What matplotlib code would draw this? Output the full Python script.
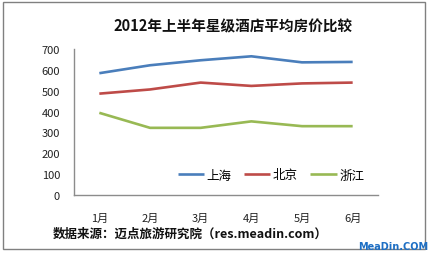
import matplotlib
matplotlib.use("Agg")
import matplotlib.pyplot as plt
from matplotlib.patches import Rectangle

plt.rcParams['font.family'] = ['Noto Sans CJK SC', 'DejaVu Sans']

months = ["1月", "2月", "3月", "4月", "5月", "6月"]
shanghai = [584, 622, 646, 665, 636, 638]
beijing = [486, 506, 539, 523, 535, 539]
zhejiang = [394, 322, 322, 353, 330, 330]
series_names = ["上海", "北京", "浙江"]
colors = ["#4A7EBB", "#BE4B48", "#98B954"]
yticks = [0, 100, 200, 300, 400, 500, 600, 700]

W, H = 431, 255
fig = plt.figure(figsize=(W / 100, H / 100), dpi=100)
fig.patch.set_facecolor("white")

# outer frame
fig.patches.append(Rectangle((3 / W, 1 - 250 / H), 422 / W, 247 / H,
                             transform=fig.transFigure, fill=False,
                             edgecolor="#808080", linewidth=1.0))

ax = fig.add_axes([74 / W, 1 - 196 / H, 304 / W, 146 / H])
x = list(range(len(months)))
for vals, name, c in zip([shanghai, beijing, zhejiang], series_names, colors):
    ax.plot(x, vals, color=c, linewidth=1.9, label=name, solid_capstyle="butt")

ax.set_xlim(-0.5, len(months) - 0.5)
ax.set_ylim(0, 700)
ax.set_yticks(yticks)
ax.set_yticklabels([str(v) for v in yticks], fontsize=8, color="#222222")
ax.set_xticks(x)
ax.set_xticklabels(months, fontsize=8, color="#222222")
ax.tick_params(axis="both", length=0)
ax.tick_params(axis="y", pad=10)
ax.tick_params(axis="x", pad=13)
for s in ["top", "right"]:
    ax.spines[s].set_visible(False)
for s in ["left", "bottom"]:
    ax.spines[s].set_color("#8C8C8C")
    ax.spines[s].set_linewidth(1.0)

fig.legend(loc="center", bbox_to_anchor=(271 / W, 1 - 176 / H), ncol=3,
           frameon=False, fontsize=9, handlelength=2.1, handletextpad=0.2,
           columnspacing=1.0)

fig.text(233 / W, 1 - 26 / H, "2012年上半年星级酒店平均房价比较",
         ha="center", va="center", fontsize=10.5, fontweight="bold", color="#111111")
fig.text(53 / W, 1 - 234 / H, "数据来源：迈点旅游研究院（res.meadin.com）",
         ha="left", va="center", fontsize=9, fontweight="bold", color="#111111")
fig.text(428 / W, 1 - 247 / H, "MeaDin.COM", ha="right", va="center",
         fontsize=7, fontweight="bold", color="#1E6FC4", family=["DejaVu Sans"])

fig.savefig("out.png", dpi=100, facecolor="white")
